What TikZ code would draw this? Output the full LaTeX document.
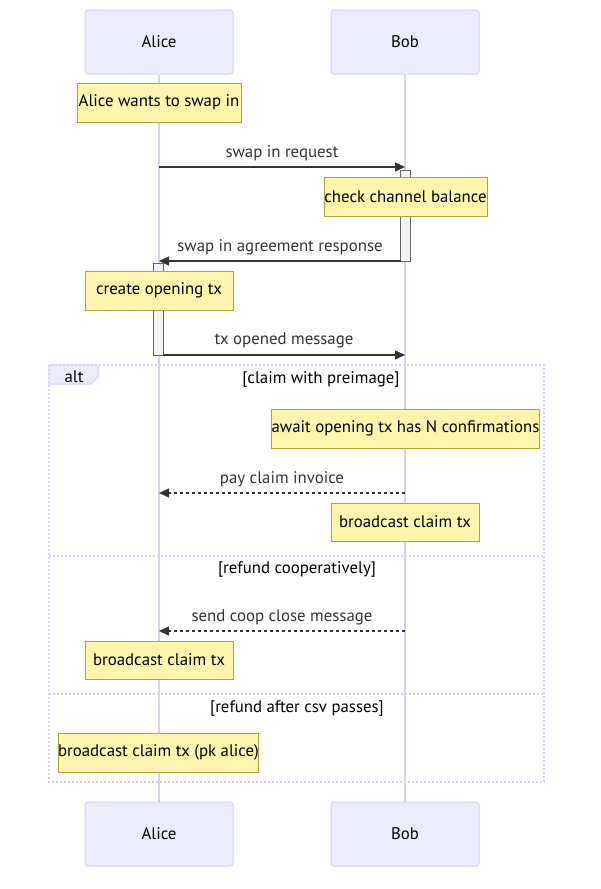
\documentclass[tikz,border=0pt]{standalone}
\usepackage{fontspec}
\setmainfont{PT Sans}
\usetikzlibrary{arrows.meta}
\definecolor{actfill}{HTML}{ECECFF}
\definecolor{actline}{HTML}{D9D0F2}
\definecolor{notefill}{HTML}{FFF5AD}
\definecolor{noteline}{HTML}{AAAA33}
\definecolor{actvfill}{HTML}{F4F4F4}
\definecolor{actvline}{HTML}{666666}
\definecolor{sig}{HTML}{333333}
\newcommand\fs{\fontsize{16.8}{20}\selectfont}
\begin{document}
\begin{tikzpicture}[x=1pt,y=-1pt,
 actor/.style={draw=actline, fill=actfill, rounded corners=3pt, minimum width=148pt, minimum height=64pt, inner sep=0pt, font=\fs, line width=1pt},
 note/.style={draw=noteline, fill=notefill, inner sep=0pt, font=\fs, line width=1pt},
 actv/.style={draw=actvline, fill=actvfill, inner sep=0pt, line width=1pt, minimum width=9.5pt},
 msg/.style={draw=sig, line width=1.4pt, -{Triangle[length=10pt,width=9pt]}},
 dmsg/.style={msg, dash pattern=on 3pt off 3pt},
 mlabel/.style={font=\fs, text=sig, inner sep=0pt},
 lifeline/.style={draw=actline, line width=1.2pt},
 frame/.style={draw=actline, line width=1.5pt, dash pattern=on 2pt off 2pt},
 seclabel/.style={font=\fs, text=black, inner sep=0pt}]
\useasboundingbox (0,0) rectangle (601,889);

% actors
\node[actor] (a1) at (159,42) {Alice};
\node[actor] (b1) at (405,42) {Bob};
\node[actor] (a2) at (159,834) {Alice};
\node[actor] (b2) at (405,834) {Bob};

% lifelines
\draw[lifeline] (a1.south) -- (a2.north);
\draw[lifeline] (b1.south) -- (b2.north);

% alt frame
\draw[frame] (49,365) rectangle (544,782);
\draw[frame] (49,556) -- (544,556);
\draw[frame] (49,694) -- (544,694);
\filldraw[draw=actline, fill=actfill, line width=1pt] (49,365) -- (98,365) -- (98,377) -- (91,384) -- (49,384) -- cycle;
\node[seclabel] (altl) at (74,377) {alt};
\node[seclabel] (s1) at (321,379) {[claim with preimage]};
\node[seclabel] (s2) at (297,569) {[refund cooperatively]};
\node[seclabel] (s3) at (297,708) {[refund after csv passes]};

% activations
\node[actv, minimum height=91pt] (actb) at (405.5,215.5) {};
\node[actv, minimum height=92pt] (acta) at (158.5,309) {};

% notes
\node[note, minimum width=164pt, minimum height=39pt] (n1) at (159,102.5) {Alice wants to swap in};
\node[note, minimum width=163pt, minimum height=39pt] (n2) at (405.5,196.5) {check channel balance};
\node[note, minimum width=148pt, minimum height=39pt] (n3) at (159,290.5) {create opening tx};
\node[note, minimum width=257pt, minimum height=39pt] (n4) at (405.5,428.5) {await opening tx has N confirmations};
\node[note, minimum width=148pt, minimum height=38pt] (n5) at (405,522) {broadcast claim tx};
\node[note, minimum width=148pt, minimum height=38pt] (n6) at (159,660) {broadcast claim tx};
\node[note, minimum width=199pt, minimum height=39pt] (n7) at (158.5,752.5) {broadcast claim tx (pk alice)};

% message end points
\coordinate (m1s) at (159,167);
\coordinate (m1e) at (405,167);
\coordinate (m2s) at (401,261);
\coordinate (m2e) at (159,261);
\coordinate (m3s) at (163,355);
\coordinate (m3e) at (405,355);
\coordinate (m4s) at (405,493);
\coordinate (m4e) at (159,493);
\coordinate (m5s) at (405,631);
\coordinate (m5e) at (159,631);

\draw[msg] (m1s) -- (m1e);
\draw[msg] (m2s) -- (m2e);
\draw[msg] (m3s) -- (m3e);
\draw[dmsg] (m4s) -- (m4e);
\draw[dmsg] (m5s) -- (m5e);

\node[mlabel] (l1) at (282,153) {swap in request};
\node[mlabel] (l2) at (280,247) {swap in agreement response};
\node[mlabel] (l3) at (284,340) {tx opened message};
\node[mlabel] (l4) at (282,479) {pay claim invoice};
\node[mlabel] (l5) at (282,617) {send coop close message};
\end{tikzpicture}
\end{document}
